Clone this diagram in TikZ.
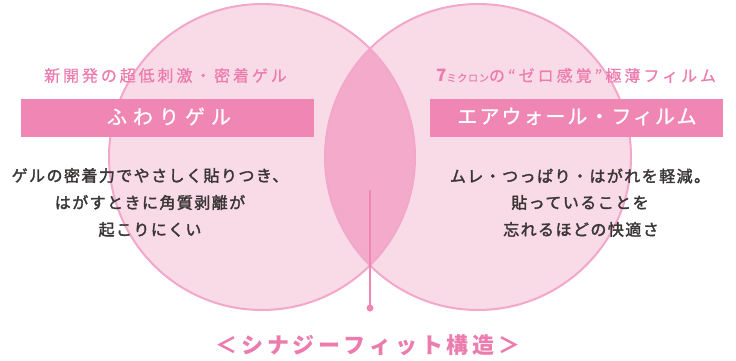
\documentclass[tikz,border=0pt]{standalone}
\usepackage{fontspec}
\newfontfamily\jp{Noto Sans CJK JP}
\definecolor{cfill}{RGB}{249,218,231}
\definecolor{cline}{RGB}{243,167,202}
\definecolor{lens}{RGB}{243,170,203}
\definecolor{band}{RGB}{240,134,180}
\definecolor{ptext}{RGB}{236,123,174}
\definecolor{dtext}{RGB}{58,54,54}
\tikzset{
  head/.style={font=\jp\fontsize{16}{16}\selectfont\addfontfeatures{LetterSpace=18,FakeBold=0.6}, text=ptext, inner sep=0pt},
  bandbox/.style={fill=band, draw=none, minimum width=293pt, minimum height=38pt, inner sep=0pt},
  bandtext/.style={text=white, inner sep=0pt},
  body/.style={font=\jp\fontsize{16}{16}\selectfont\addfontfeatures{LetterSpace=9,FakeBold=2}, text=dtext, inner sep=0pt},
  circline/.style={draw=cline, line width=2pt},
}
\begin{document}
\begin{tikzpicture}[x=1pt,y=-1pt]
\useasboundingbox (0,0) rectangle (736,360);
% circles
\fill[cfill] (262,157) circle (153);
\fill[cfill] (478,157) circle (153);
\begin{scope}
  \clip (262,157) circle (153);
  \fill[lens] (478,157) circle (153);
\end{scope}
\draw[circline] (262,157) circle (153);
\draw[circline] (478,157) circle (153);
% headings
\node[head] (h1) at (165.5,75.5) {新開発の超低刺激・密着ゲル};
\node[text=ptext, inner sep=0pt, anchor=west] (h2) at (436,75.5) {\jp\fontsize{16}{16}\selectfont{\bfseries\fontsize{17}{17}\selectfont 7}{\fontsize{10}{10}\selectfont\addfontfeatures{LetterSpace=8,FakeBold=0.6}ミクロン}\addfontfeatures{LetterSpace=19,FakeBold=0.6}の“ゼロ感覚”極薄フィルム};
% bands
\node[bandbox] (b1) at (167.5,118) {};
\node[bandtext, font=\jp\fontsize{20}{20}\selectfont\addfontfeatures{LetterSpace=30,FakeBold=1}] (t1) at (169,116.5) {ふわりゲル};
\node[bandbox] (b2) at (576.5,118) {};
\node[bandtext, font=\jp\fontsize{20}{20}\selectfont\addfontfeatures{LetterSpace=10,FakeBold=1}] (t2) at (577,116.5) {エアウォール・フィルム};
% body texts
\node[body] (l1) at (150,175.5) {ゲルの密着力でやさしく貼りつき、};
\node[body] (l2) at (150,202.5) {はがすときに角質剥離が};
\node[body] (l3) at (150,229.5) {起こりにくい};
\node[body] (r1) at (580,176) {ムレ・つっぱり・はがれを軽減。};
\node[body] (r2) at (580,202.5) {貼っていることを};
\node[body] (r3) at (581,229.5) {忘れるほどの快適さ};
% pointer
\coordinate (ptop) at (370,190);
\node[circle, fill=band, inner sep=0pt, minimum size=7pt] (dot) at (370,308) {};
\draw[band, line width=1.2pt] (ptop) -- (dot.center);
% bottom label
\node[text=ptext, inner sep=0pt, font=\jp\bfseries\fontsize{22}{22}\selectfont\addfontfeatures{LetterSpace=18}] (syn) at (368,345) {＜シナジーフィット構造＞};
\end{tikzpicture}
\end{document}
